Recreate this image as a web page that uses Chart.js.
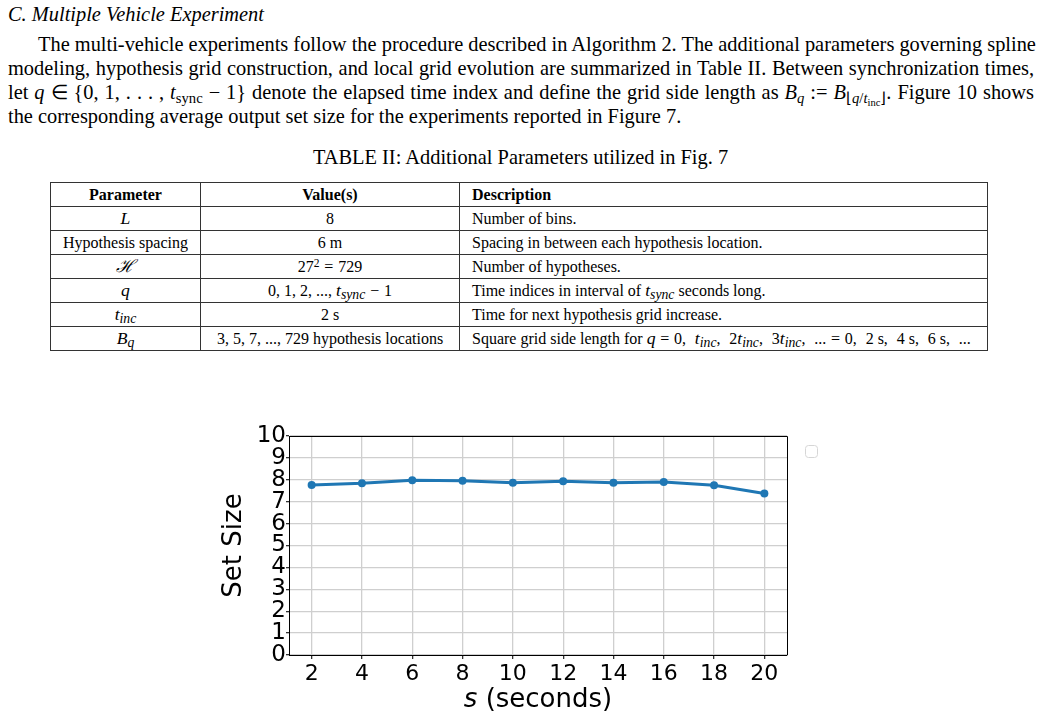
<!DOCTYPE html>
<html>
<head>
<meta charset="utf-8">
<script src="https://cdn.jsdelivr.net/npm/chart.js@4"></script>
<style>
  html, body { margin: 0; padding: 0; background: #fff; }
  body { width: 1041px; height: 718px; position: relative; overflow: hidden;
         font-family: "Liberation Serif", "Times New Roman", serif; color: #000; }
  .m { font-style: italic; }
  .eq { margin: 0 0.3em; }
  .heading { position: absolute; left: 8px; top: 2px; font-size: 20.4px; line-height: 24px; font-style: italic; }
  .para { position: absolute; left: 8px; top: 32px; width: 1026px; font-size: 20.4px; line-height: 24px; }
  .para .ln { text-align: justify; text-align-last: justify; white-space: nowrap; }
  .para .ln.first { padding-left: 30px; }
  .para .ln.last { text-align-last: left; }
  .caption { position: absolute; left: 0; top: 145px; width: 1041px; text-align: center; font-size: 20.4px; line-height: 24px; }
  table { position: absolute; left: 50px; top: 182px; width: 937px; border-collapse: collapse;
          font-size: 16px; table-layout: fixed; }
  td, th { border: 1px solid #333; height: 23px; padding: 0 12px; line-height: 22px; white-space: nowrap; }
  th { font-weight: bold; }
  td .m { font-size: 1.1em; }
  td sub { font-size: 78%; }
  td .cm { margin-right: 0.55em; }
  .c { text-align: center; }
  .l { text-align: left; }
  sub { font-size: 72%; vertical-align: -0.25em; line-height: 0; }
  sup { font-size: 72%; vertical-align: 0.45em; line-height: 0; }
  #chartBox { position: absolute; left: 200px; top: 420px; width: 620px; height: 298px; }
</style>
</head>
<body>
<div class="heading">C. Multiple Vehicle Experiment</div>
<div class="para">
  <div class="ln first">The multi-vehicle experiments follow the procedure described in Algorithm 2. The additional parameters governing spline</div>
  <div class="ln">modeling, hypothesis grid construction, and local grid evolution are summarized in Table II. Between synchronization times,</div>
  <div class="ln">let <span class="m">q</span> ∈ {0, 1, . . . , <span class="m">t</span><sub>sync</sub> − 1} denote the elapsed time index and define the grid side length as <span class="m">B<sub>q</sub></span> := <span class="m">B</span><sub>⌊<span class="m">q</span>/<span class="m">t</span><sub>inc</sub>⌋</sub>. Figure 10 shows</div>
  <div class="ln last">the corresponding average output set size for the experiments reported in Figure 7.</div>
</div>
<div class="caption">TABLE II: Additional Parameters utilized in Fig. 7</div>
<table>
  <colgroup><col style="width:150px"><col style="width:259px"><col style="width:528px"></colgroup>
  <tr><th class="c">Parameter</th><th class="c">Value(s)</th><th class="l">Description</th></tr>
  <tr><td class="c"><span class="m">L</span></td><td class="c">8</td><td>Number of bins.</td></tr>
  <tr><td class="c">Hypothesis spacing</td><td class="c">6 m</td><td>Spacing in between each hypothesis location.</td></tr>
  <tr><td class="c"><span class="m">ℋ</span></td><td class="c">27<sup>2</sup><span class="eq">=</span>729</td><td>Number of hypotheses.</td></tr>
  <tr><td class="c"><span class="m">q</span></td><td class="c">0, 1, 2, ..., <span class="m">t<sub>sync</sub></span><span class="eq">−</span>1</td><td>Time indices in interval of <span class="m">t<sub>sync</sub></span> seconds long.</td></tr>
  <tr><td class="c"><span class="m">t<sub>inc</sub></span></td><td class="c">2 s</td><td>Time for next hypothesis grid increase.</td></tr>
  <tr><td class="c"><span class="m">B<sub>q</sub></span></td><td class="c">3, 5, 7, ..., 729 hypothesis locations</td><td>Square grid side length for <span class="m">q</span><span class="eq">=</span>0,<span class="cm"></span><span class="m">t<sub>inc</sub></span>,<span class="cm"></span>2<span class="m">t<sub>inc</sub></span>,<span class="cm"></span>3<span class="m">t<sub>inc</sub></span>,<span class="cm"></span>...<span class="eq">=</span>0,<span class="cm"></span>2 s,<span class="cm"></span>4 s,<span class="cm"></span>6 s,<span class="cm"></span>...</td></tr>
</table>
<div id="chartBox"><canvas id="setSizeChart"></canvas></div>
<script>
// average output set size vs elapsed time
const timeSeconds = [2, 4, 6, 8, 10, 12, 14, 16, 18, 20];
const setSize = [7.76, 7.84, 7.98, 7.96, 7.87, 7.93, 7.87, 7.90, 7.75, 7.37];
const xTicks = [2, 4, 6, 8, 10, 12, 14, 16, 18, 20];
const yTicks = [0, 1, 2, 3, 4, 5, 6, 7, 8, 9, 10];

// top/right spines, x title with italic s, empty legend box
const framePlugin = {
  id: "frame",
  afterDraw(chart) {
    const { ctx, chartArea } = chart;
    ctx.save();
    ctx.strokeStyle = "#000";
    ctx.lineWidth = 1;
    ctx.beginPath();
    ctx.moveTo(chartArea.left, chartArea.top + 0.5);
    ctx.lineTo(chartArea.right + 0.5, chartArea.top + 0.5);
    ctx.lineTo(chartArea.right + 0.5, chartArea.bottom);
    ctx.stroke();

    const part1 = "s";
    const part2 = " (seconds)";
    ctx.fillStyle = "#000";
    ctx.textBaseline = "alphabetic";
    ctx.font = "oblique 26px 'DejaVu Sans'";
    const w1 = ctx.measureText(part1).width;
    ctx.font = "26px 'DejaVu Sans'";
    const w2 = ctx.measureText(part2).width;
    const cx = (chartArea.left + chartArea.right) / 2;
    const x0 = cx - (w1 + w2) / 2;
    ctx.font = "oblique 26px 'DejaVu Sans'";
    ctx.fillText(part1, x0, 287);
    ctx.font = "26px 'DejaVu Sans'";
    ctx.fillText(part2, x0 + w1, 287);

    ctx.strokeStyle = "#d6d6d6";
    ctx.beginPath();
    ctx.roundRect(605.5, 25.5, 12, 12, 3);
    ctx.stroke();
    ctx.restore();
  }
};

const ctx = document.getElementById("setSizeChart").getContext("2d");

new Chart(ctx, {
  type: "line",
  data: {
    datasets: [{
      label: "Set Size",
      data: timeSeconds.map((t, i) => ({ x: t, y: setSize[i] })),
      borderColor: "#1f77b4",
      backgroundColor: "#1f77b4",
      borderWidth: 3,
      pointRadius: 4,
      pointBorderWidth: 0,
      pointBackgroundColor: "#1f77b4",
      tension: 0
    }]
  },
  options: {
    responsive: true,
    maintainAspectRatio: false,
    animation: false,
    layout: { padding: { top: 16, right: 33, left: 0, bottom: 0 } },
    plugins: {
      legend: { display: false },
      tooltip: { enabled: false }
    },
    scales: {
      x: {
        type: "linear",
        min: 1.1,
        max: 20.9,
        afterBuildTicks: scale => { scale.ticks = xTicks.map(v => ({ value: v })); },
        afterFit: scale => { scale.height = 63; },
        grid: { color: "#cfcfcf", lineWidth: 1.3, tickLength: 4, tickColor: "#333" },
        border: { color: "#000", width: 1 },
        ticks: { font: { family: "DejaVu Sans", size: 22 }, color: "#000", padding: 2, maxRotation: 0, autoSkip: false }
      },
      y: {
        min: 0,
        max: 10,
        afterBuildTicks: scale => { scale.ticks = yTicks.map(v => ({ value: v })); },
        afterFit: scale => { scale.width = 89; },
        grid: { color: "#cfcfcf", lineWidth: 1.3, tickLength: 3, tickColor: "#333" },
        border: { color: "#000", width: 1 },
        ticks: { font: { family: "DejaVu Sans", size: 23 }, color: "#000", padding: 0, autoSkip: false },
        title: {
          display: true,
          text: "Set Size",
          font: { family: "DejaVu Sans", size: 26 },
          color: "#000",
          padding: { top: 19, bottom: 0 }
        }
      }
    }
  },
  plugins: [framePlugin]
});
</script>
</body>
</html>
